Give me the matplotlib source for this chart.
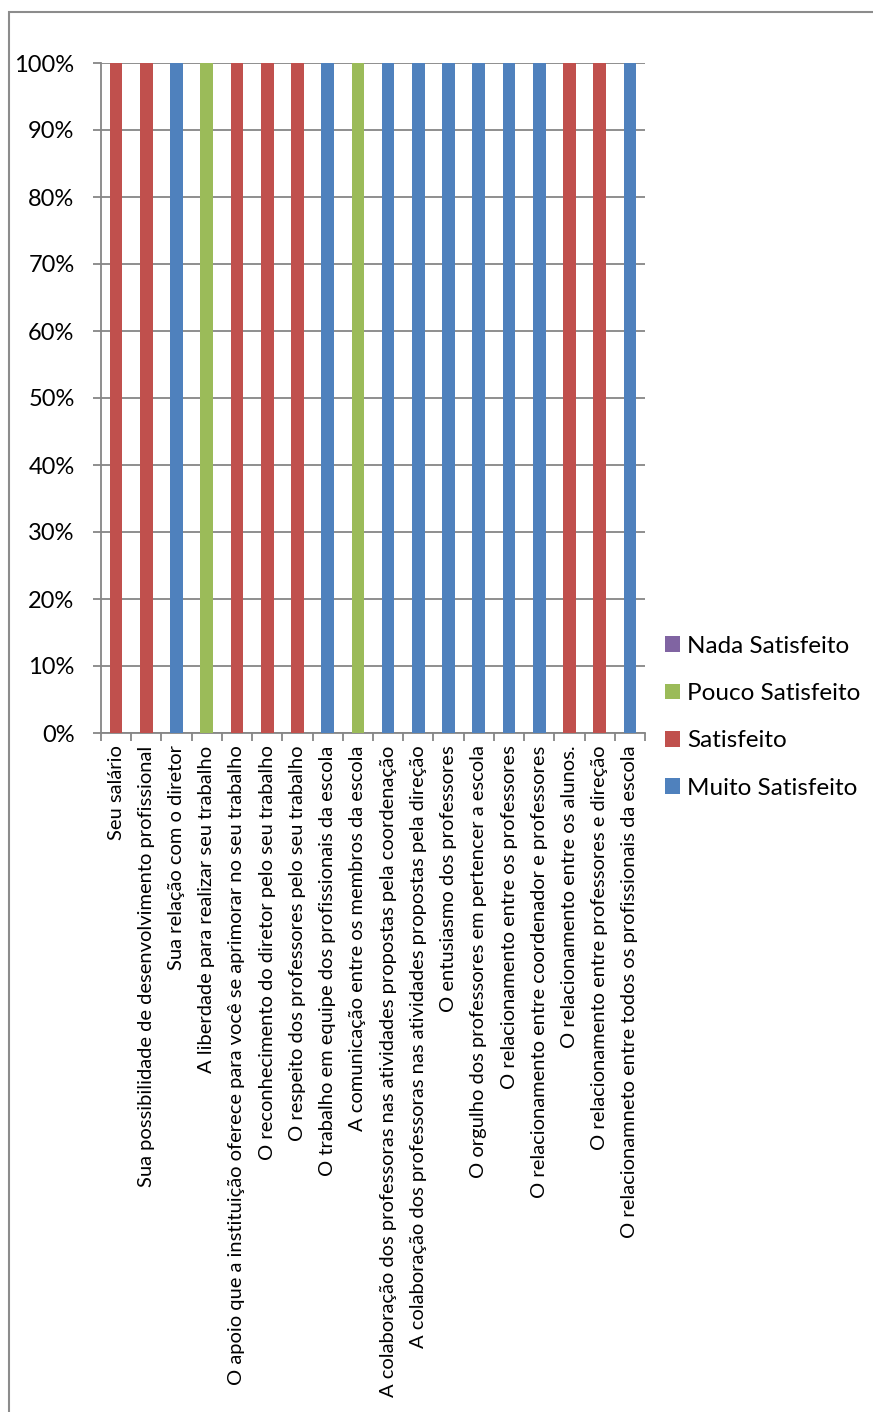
import matplotlib.pyplot as plt
from matplotlib.patches import Rectangle
from matplotlib.ticker import PercentFormatter

categories = [
    "Seu salário",
    "Sua possibilidade de desenvolvimento profissional",
    "Sua relação com o diretor",
    "A liberdade para realizar seu trabalho",
    "O apoio que a instituição oferece para você se aprimorar no seu trabalho",
    "O reconhecimento do diretor pelo seu trabalho",
    "O respeito dos professores pelo seu trabalho",
    "O trabalho em equipe dos profissionais da escola",
    "A comunicação entre os membros da escola",
    "A colaboração dos professoras nas atividades propostas pela coordenação",
    "A colaboração dos professoras nas atividades propostas pela direção",
    "O entusiasmo dos professores",
    "O orgulho dos professores em pertencer a escola",
    "O relacionamento entre os professores",
    "O relacionamento entre coordenador e professores",
    "O relacionamento entre os alunos.",
    "O relacionamento entre professores e direção",
    "O relacionamneto entre todos os profissionais da escola",
]

muito = [0, 0, 100, 0, 0, 0, 0, 100, 0, 100, 100, 100, 100, 100, 100, 0, 0, 100]
satisfeito = [100, 100, 0, 0, 100, 100, 100, 0, 0, 0, 0, 0, 0, 0, 0, 100, 100, 0]
pouco = [0, 0, 0, 100, 0, 0, 0, 0, 100, 0, 0, 0, 0, 0, 0, 0, 0, 0]
nada = [0] * 18

series = [("Muito Satisfeito", muito, "#4F81BD"),
          ("Satisfeito", satisfeito, "#C0504D"),
          ("Pouco Satisfeito", pouco, "#9BBB59"),
          ("Nada Satisfeito", nada, "#8064A2")]

plt.rcParams['font.family'] = ['Lato', 'DejaVu Sans']

fig = plt.figure(figsize=(8.73, 14.12), dpi=100)
W, H = 873, 1412
ax = fig.add_axes([101 / W, 1 - 733 / H, 544 / W, 670 / H])

x = list(range(len(categories)))
bottom = [0] * len(categories)
handles = []
for name, vals, color in series:
    b = ax.bar(x, vals, width=0.42, bottom=bottom, color=color, label=name, zorder=3)
    handles.append(b)
    bottom = [a + v for a, v in zip(bottom, vals)]

ax.set_xlim(-0.5, len(categories) - 0.5)
ax.set_ylim(0, 100)
ax.set_yticks(range(0, 101, 10))
ax.yaxis.set_major_formatter(PercentFormatter(decimals=0))
ax.grid(axis='y', color='#868686', linewidth=1.3, zorder=0)
for s in ['top', 'right']:
    ax.spines[s].set_visible(False)
for s in ['left', 'bottom']:
    ax.spines[s].set_color('#868686')
    ax.spines[s].set_linewidth(1.3)
ax.tick_params(axis='y', labelsize=17, color='#868686', length=6, width=1.3, pad=13)
ax.set_xticks(x)
ax.set_xticklabels(categories, rotation=90, fontsize=14.5, va='top', ha='center')
ax.tick_params(axis='x', length=0, pad=9)
ax.set_xticks([i - 0.5 for i in range(len(categories) + 1)], minor=True)
ax.tick_params(axis='x', which='minor', length=6, color='#868686', width=1.3)

ax.legend(handles[::-1], [s[0] for s in series][::-1], loc='upper left',
          bbox_to_anchor=(643 / W, 1 - 614 / H), bbox_transform=fig.transFigure,
          frameon=False, fontsize=17.5, handlelength=0.62, handleheight=0.62,
          handletextpad=0.3, labelspacing=1.08)

fig.patches.append(Rectangle((9 / W, -0.01), 1.0, 1 - 12 / H + 0.01,
                             transform=fig.transFigure, fill=False,
                             edgecolor='#8c8c8c', linewidth=1.5))

fig.savefig('out.png', dpi=100)
